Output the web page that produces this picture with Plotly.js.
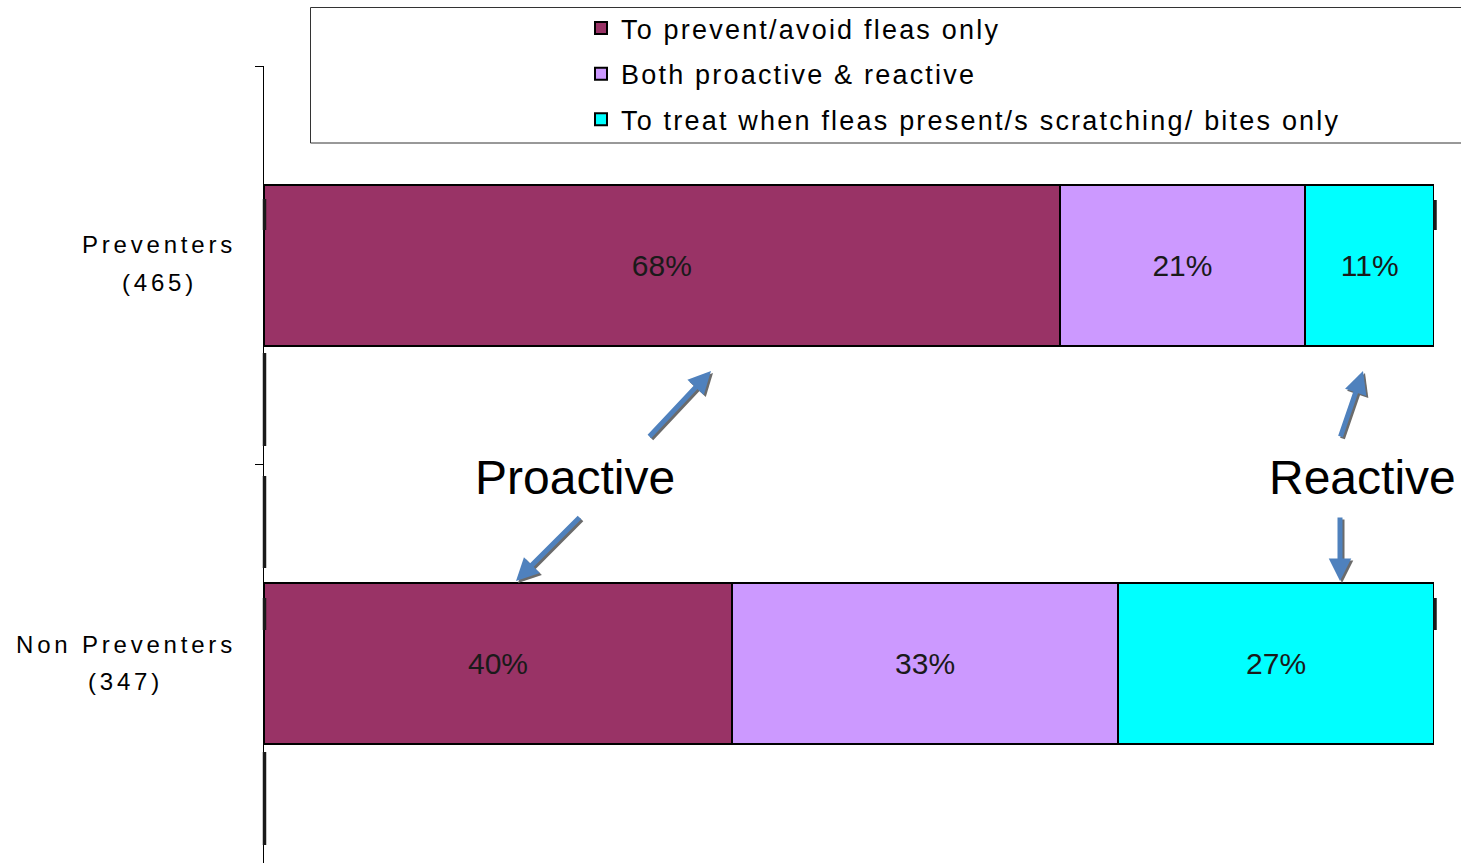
<!DOCTYPE html>
<html>
<head>
<meta charset="utf-8">
<script src="https://cdn.plot.ly/plotly-3.0.1.min.js"></script>
<style>
  html, body { margin: 0; padding: 0; background: #fff; overflow: hidden; }
  .legendtext { letter-spacing: 2.2px; }
</style>
</head>
<body>
<div id="chart" style="width:1461px;height:863px;"></div>
<script>
// ---- data ----
const categories = ['Preventers', 'Non Preventers'];
const baseCounts = [465, 347];
const seriesNames = ['To prevent/avoid fleas only', 'Both proactive & reactive', 'To treat when fleas present/s scratching/ bites only'];
const preventOnly = [68, 40];
const bothValues = [21, 33];
const treatOnly = [11, 27];
const seriesColors = ['#993366', '#CC99FF', '#00FFFF'];

// ---- geometry helpers (plot area: x 264..1434, y 66..863) ----
const L = 264, T = 66, W = 1170, H = 797;
const px = p => (p - L) / W;
const py = p => 1 - (p - T) / H;

const seriesValues = [preventOnly, bothValues, treatOnly];
const traces = seriesValues.map((vals, i) => ({
  type: 'bar',
  orientation: 'h',
  name: seriesNames[i],
  legendgroup: 'g' + i,
  y: categories,
  x: vals,
  width: 0.404,
  marker: { color: seriesColors[i], line: { color: '#000', width: 2 } },
  text: vals.map(v => v + '%'),
  textposition: 'inside',
  insidetextanchor: 'middle',
  textangle: 0,
  textfont: { family: 'Liberation Sans, Arial, sans-serif', size: 30, color: '#1a1a1a' },
  hoverinfo: 'skip'
}));

const annotations = [];
// category labels (two lines, centered)
const labelCenters = [159, 125.5];
categories.forEach((c, i) => {
  const rowCenter = i === 0 ? 266 : 665;
  annotations.push({
    xref: 'paper', yref: 'paper', x: px(labelCenters[i]), y: py(rowCenter - 21),
    xanchor: 'center', yanchor: 'middle', showarrow: false,
    text: '<span style="letter-spacing:3.8px">' + c + '</span>',
    font: { family: 'Liberation Sans, Arial, sans-serif', size: 24, color: '#000' }
  });
  annotations.push({
    xref: 'paper', yref: 'paper', x: px(labelCenters[i]), y: py(rowCenter + 16),
    xanchor: 'center', yanchor: 'middle', showarrow: false,
    text: '<span style="letter-spacing:3.8px">(' + baseCounts[i] + ')</span>',
    font: { family: 'Liberation Sans, Arial, sans-serif', size: 24, color: '#000' }
  });
});

// Proactive / Reactive labels
annotations.push({
  xref: 'paper', yref: 'paper', x: px(574.5), y: py(477), xanchor: 'center', yanchor: 'middle',
  showarrow: false, text: 'Proactive',
  font: { family: 'Liberation Sans, Arial, sans-serif', size: 48, color: '#000' }
});
annotations.push({
  xref: 'paper', yref: 'paper', x: px(1362), y: py(477), xanchor: 'center', yanchor: 'middle',
  showarrow: false, text: 'Reactive',
  font: { family: 'Liberation Sans, Arial, sans-serif', size: 48, color: '#000' }
});

// arrows: [tailX, tailY, tipX, tipY]
const arrows = [[648, 438, 711, 371], [581, 516, 516, 581], [1340, 438, 1363, 371], [1340, 516, 1340, 581]];
arrows.forEach(a => {
  annotations.push({
    xref: 'paper', yref: 'paper', x: px(a[2] + 2), y: py(a[3] + 2), ax: a[0] - a[2], ay: a[1] - a[3],
    axref: 'pixel', ayref: 'pixel', text: '', showarrow: true,
    arrowhead: 2, arrowsize: 0.9, arrowwidth: 5, arrowcolor: '#6b6b6b', standoff: 0, startstandoff: 0
  });
});
arrows.forEach(a => {
  annotations.push({
    xref: 'paper', yref: 'paper', x: px(a[2]), y: py(a[3]), ax: a[0] - a[2], ay: a[1] - a[3],
    axref: 'pixel', ayref: 'pixel', text: '', showarrow: true,
    arrowhead: 2, arrowsize: 0.9, arrowwidth: 5, arrowcolor: '#4F81BD', standoff: 0, startstandoff: 0
  });
});

// decorative shapes: legend frame and thick marks on axis
const shapes = [{
  type: 'rect', xref: 'paper', yref: 'paper',
  x0: px(310.5), x1: px(1475), y0: py(143), y1: py(7.5),
  line: { color: '#333', width: 1 }, fillcolor: 'rgba(0,0,0,0)', layer: 'above'
}];
const marks = [[264.5, 199, 230], [264.5, 353, 446], [264.5, 476, 568], [264.5, 598, 630], [264.5, 752, 845], [1435, 200, 230], [1435, 598, 630]];
marks.forEach(m => shapes.push({
  type: 'line', xref: 'paper', yref: 'paper', x0: px(m[0]), x1: px(m[0]), y0: py(m[1]), y1: py(m[2]),
  line: { color: '#1a1a1a', width: 3.5 }, layer: 'above'
}));

const layout = {
  width: 1461, height: 863,
  margin: { l: L, r: 1461 - 1434, t: T, b: 0, pad: 0 },
  paper_bgcolor: '#fff', plot_bgcolor: '#fff',
  barmode: 'stack',
  font: { family: 'Liberation Sans, Arial, sans-serif', color: '#000' },
  showlegend: true,
  legend: {
    x: px(581), xanchor: 'left', y: py(4), yanchor: 'top',
    bgcolor: 'rgba(0,0,0,0)', borderwidth: 0,
    font: { family: 'Liberation Sans, Arial, sans-serif', size: 27, color: '#000' },
    traceorder: 'grouped', tracegroupgap: 7.5
  },
  xaxis: { range: [0, 100], visible: false, fixedrange: true },
  yaxis: {
    type: 'category', categoryorder: 'array', categoryarray: categories,
    range: [1.5, -0.5], showticklabels: false,
    showline: true, linecolor: '#000', linewidth: 1,
    ticks: 'outside', tickson: 'boundaries', ticklen: 8, tickwidth: 1, tickcolor: '#000',
    showgrid: false, zeroline: false, fixedrange: true
  },
  annotations: annotations,
  shapes: shapes
};

Plotly.newPlot('chart', traces, layout, { staticPlot: true, displayModeBar: false });
</script>
</body>
</html>
